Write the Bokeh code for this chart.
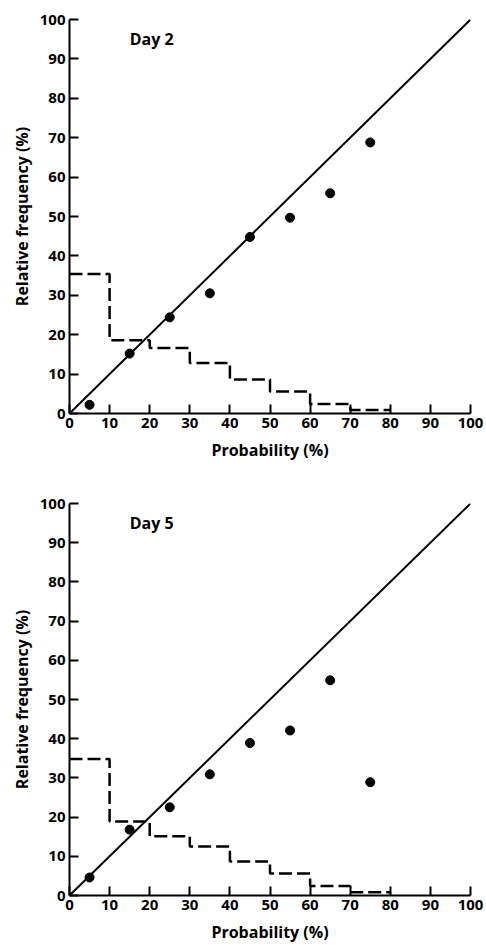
from bokeh.plotting import figure
from bokeh.layouts import column
from bokeh.models import Range1d, FixedTicker, Label
from bokeh.embed import file_html
from bokeh.resources import INLINE

# ---- data ----
bin_edges = [0, 10, 20, 30, 40, 50, 60, 70, 80]
point_x = [5, 15, 25, 35, 45, 55, 65, 75]

day2_obs = [2.2, 15.2, 24.4, 30.5, 44.8, 49.7, 55.9, 68.8]
day2_hist = [35.4, 18.6, 16.6, 12.8, 8.6, 5.6, 2.4, 0.9]

day5_obs = [4.6, 16.8, 22.5, 30.9, 38.9, 42.1, 54.9, 28.9]
day5_hist = [34.8, 18.9, 15.1, 12.5, 8.7, 5.6, 2.4, 0.8]

ticks = [0, 10, 20, 30, 40, 50, 60, 70, 80, 90, 100]
diag = [0, 100]

FONT = "Open Sans"


def panel(title, obs, hist, height, top, bottom, left, right):
    p = figure(width=486, height=height, output_backend="svg", toolbar_location=None,
               x_range=Range1d(0, 100), y_range=Range1d(0, 100),
               min_border_top=top, min_border_bottom=bottom,
               min_border_left=left, min_border_right=right)
    p.outline_line_color = None
    p.xgrid.visible = False
    p.ygrid.visible = False
    p.background_fill_color = "white"
    p.border_fill_color = "white"
    for ax in (p.xaxis[0], p.yaxis[0]):
        ax.ticker = FixedTicker(ticks=ticks)
        ax.minor_tick_line_color = None
        ax.major_tick_in = 9
        ax.major_tick_out = 0
        ax.major_tick_line_width = 2
        ax.axis_line_width = 2
        ax.axis_line_color = "black"
        ax.major_tick_line_color = "black"
        ax.major_label_text_font = FONT
        ax.major_label_text_font_style = "bold"
        ax.major_label_text_font_size = "15px"
        ax.major_label_text_color = "black"
        ax.major_label_standoff = 4
        ax.axis_label_text_font = FONT
        ax.axis_label_text_font_style = "bold"
        ax.axis_label_text_font_size = "16px"
        ax.axis_label_text_color = "black"
        ax.axis_label_standoff = 4
    p.xaxis[0].axis_label_standoff = 8
    p.xaxis.axis_label = "Probability (%)"
    p.yaxis.axis_label = "Relative frequency (%)"

    p.line(diag, diag, line_color="black", line_width=2)
    p.step(bin_edges, hist + [hist[-1]], mode="after", line_color="black",
           line_width=2.5, line_dash="13 5")
    p.scatter(point_x, obs, size=9, fill_color="black", line_color="black")
    p.add_layout(Label(x=15, y=95, text=title, text_font=FONT, text_font_style="bold",
                       text_font_size="16px", text_baseline="middle", text_color="black"))
    return p


p1 = panel("Day 2", day2_obs, day2_hist, 470, 19, 57, 67, 16)
p2 = panel("Day 5", day5_obs, day5_hist, 475, 33, 48, 69, 13)

layout = column(p1, p2, spacing=0)
open("out.html", "w").write(file_html(layout, INLINE))
